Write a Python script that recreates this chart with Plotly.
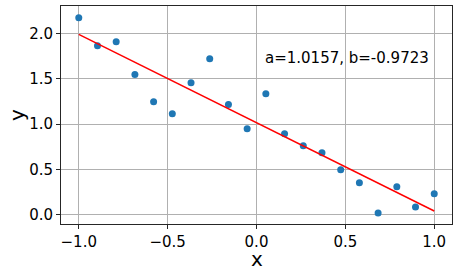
import plotly.graph_objects as go
import numpy as np

x_vals = [-1.0, -0.8947, -0.7895, -0.6842, -0.5789, -0.4737, -0.3684, -0.2632, -0.1579, -0.0526,
          0.0526, 0.1579, 0.2632, 0.3684, 0.4737, 0.5789, 0.6842, 0.7895, 0.8947, 1.0]
y_vals = [2.172, 1.863, 1.907, 1.547, 1.246, 1.114, 1.455, 1.720, 1.216, 0.948,
          1.334, 0.893, 0.761, 0.684, 0.496, 0.353, 0.022, 0.309, 0.088, 0.232]
a = 1.0157
b = -0.9723
label = "a=1.0157, b=-0.9723"
x_ticks = [-1.0, -0.5, 0.0, 0.5, 1.0]
y_ticks = [0.0, 0.5, 1.0, 1.5, 2.0]

x_line = [min(x_vals), max(x_vals)]
y_line = [a + b * xv for xv in x_line]

FONT = "DejaVu Sans"
fig = go.Figure()
fig.add_trace(go.Scatter(x=x_vals, y=y_vals, mode="markers",
                         marker=dict(color="#1f77b4", size=7, line=dict(width=0)),
                         showlegend=False))
fig.add_trace(go.Scatter(x=x_line, y=y_line, mode="lines",
                         line=dict(color="red", width=1.5), showlegend=False))
fig.add_annotation(x=0.05, y=1.65, text=label, showarrow=False, xanchor="left",
                   yanchor="bottom", yshift=-4, xshift=-2,
                   font=dict(family=FONT, size=15, color="black"))

axis_common = dict(showgrid=True, gridcolor="#b0b0b0", gridwidth=1,
                   showline=True, linecolor="#262626", linewidth=1, mirror=True,
                   ticks="outside", ticklen=4, tickcolor="#262626",
                   tickfont=dict(family=FONT, size=15, color="black"), zeroline=False)
fig.update_xaxes(range=[-1.1, 1.1], tickvals=x_ticks, tickformat=".1f", **axis_common)
fig.update_yaxes(range=[-0.1, 2.3], tickvals=y_ticks, tickformat=".1f", **axis_common)

fig.add_annotation(text="x", xref="paper", yref="paper", x=0.5, y=0, yshift=-35,
                   xanchor="center", yanchor="middle", showarrow=False,
                   font=dict(family=FONT, size=20, color="black"))
fig.add_annotation(text="y", xref="paper", yref="paper", x=0, xshift=-44, y=0.5,
                   xanchor="center", yanchor="middle", showarrow=False, textangle=-90,
                   font=dict(family=FONT, size=20, color="black"))

fig.update_layout(width=458, height=276, margin=dict(l=61, r=6, t=6, b=52),
                  plot_bgcolor="white", paper_bgcolor="white",
                  font=dict(family=FONT, color="black"))
fig.write_html("out.html")
